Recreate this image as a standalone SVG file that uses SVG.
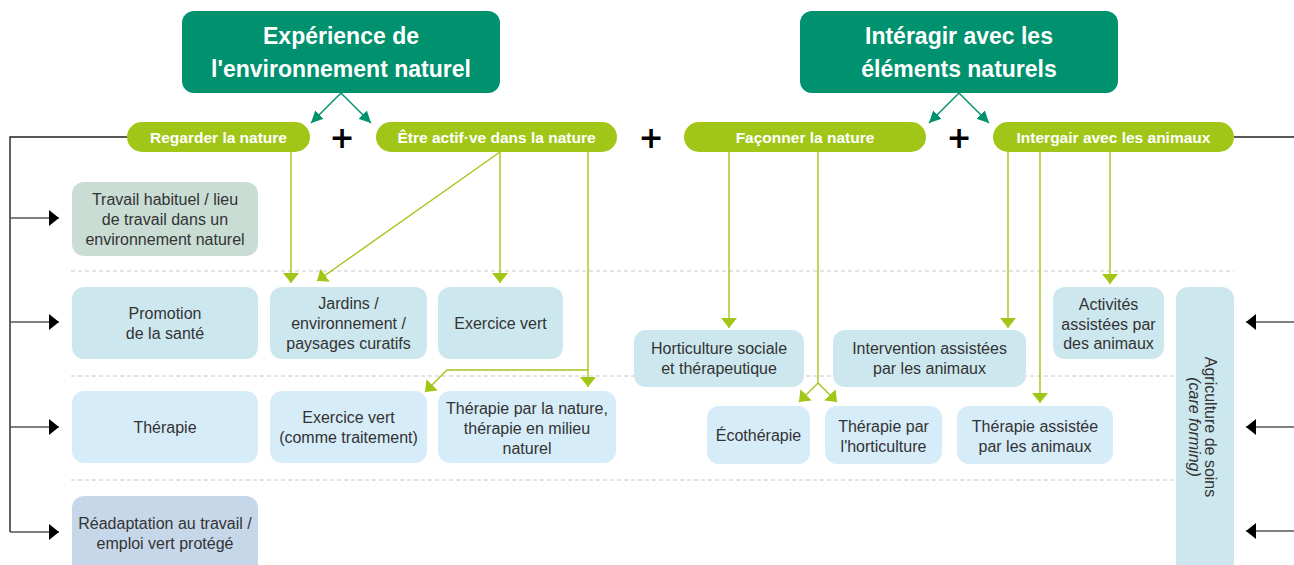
<svg xmlns="http://www.w3.org/2000/svg" width="1294" height="565" viewBox="0 0 1294 565">
<style>
.hdr{fill:#00916e}
.hdrt{font-family:"Liberation Sans",Arial,sans-serif;font-weight:bold;font-size:23px;fill:#fff;text-anchor:middle}
.pill{fill:#a2c617}
.pillt{font-family:"Liberation Sans",Arial,sans-serif;font-weight:bold;font-size:15.5px;fill:#fff;text-anchor:middle}
.plus{font-family:"DejaVu Sans","Liberation Sans",sans-serif;font-weight:bold;font-size:30px;fill:#000;text-anchor:middle}
.t{font-family:"Liberation Sans",Arial,sans-serif;font-size:16px;fill:#333;text-anchor:middle}
.b1{fill:#cde7ef}
.b2{fill:#d6ecf8}
.bw{fill:#c9ddd5}
.br{fill:#c6d7ea}
.dash{stroke:#c8c8c8;stroke-width:1;stroke-dasharray:4 3;fill:none}
.gl{stroke:#a2c617;stroke-width:1.4;fill:none;marker-end:url(#ag)}
.tl{stroke:#00916e;stroke-width:1.4;fill:none;marker-end:url(#at)}
.kl{stroke:#222;stroke-width:1.4;fill:none}
.ka{stroke:#555;stroke-width:1.4;fill:none;marker-end:url(#ak)}
</style>
<defs>
<marker id="ag" viewBox="0 0 10 16" markerWidth="10" markerHeight="16" markerUnits="userSpaceOnUse" refX="10" refY="8" orient="auto"><path d="M0,0 L10,8 L0,16 Z" fill="#a2c617"/></marker>
<marker id="at" viewBox="0 0 12 12" markerWidth="12" markerHeight="12" markerUnits="userSpaceOnUse" refX="12" refY="6" orient="auto"><path d="M0,0 L12,6 L0,12 Z" fill="#00916e"/></marker>
<marker id="ak" viewBox="0 0 10 16" markerWidth="10" markerHeight="16" markerUnits="userSpaceOnUse" refX="10" refY="8" orient="auto"><path d="M0,0 L10,8 L0,16 Z" fill="#000"/></marker>
</defs>
<rect width="1294" height="565" fill="#fff"/>

<g id="dividers">
<path class="dash" d="M71,271 H1234"/>
<path class="dash" d="M71,376 H1176"/>
<path class="dash" d="M71,480 H1176"/>
</g>

<g id="connectors">
<path class="tl" d="M341,93 L311,123"/>
<path class="tl" d="M341,93 L371,123"/>
<path class="tl" d="M959,93 L929,123"/>
<path class="tl" d="M959,93 L989,123"/>
<path class="gl" d="M291,152 V283"/>
<path class="gl" d="M500,152 L317,281"/>
<path class="gl" d="M500,152 V283"/>
<path class="gl" d="M588,152 V387"/>
<path class="gl" d="M588,370 H447 L425,392"/>
<path class="gl" d="M729,152 V328"/>
<path class="gl" d="M818,152 V383 L799,402"/>
<path class="gl" d="M818,383 L837,402"/>
<path class="gl" d="M1008,152 V328"/>
<path class="gl" d="M1040,152 V403"/>
<path class="gl" d="M1110,152 V284"/>
<path class="kl" d="M127,137 H10 V532"/>
<path class="ka" d="M10,218 H59"/>
<path class="ka" d="M10,322 H59"/>
<path class="ka" d="M10,427 H59"/>
<path class="ka" d="M10,532 H59"/>
<path class="kl" d="M1234,137 H1294"/>
<path class="ka" d="M1294,322 H1246"/>
<path class="ka" d="M1294,427 H1246"/>
<path class="ka" d="M1294,531 H1246"/>
</g>

<g id="hdr-experience">
<rect class="hdr" x="182" y="11" width="318" height="82" rx="12"/>
<text class="hdrt" x="341" y="44">Expérience de</text>
<text class="hdrt" x="341" y="77">l'environnement naturel</text>
</g>
<g id="hdr-interagir">
<rect class="hdr" x="800" y="11" width="318" height="82" rx="12"/>
<text class="hdrt" x="959" y="44">Intéragir avec les</text>
<text class="hdrt" x="959" y="77">éléments naturels</text>
</g>

<g id="pill-regarder">
<rect class="pill" x="127" y="122" width="183" height="30" rx="15"/>
<text class="pillt" x="218.5" y="142.5">Regarder la nature</text>
</g>
<g id="pill-actif">
<rect class="pill" x="376" y="122" width="241" height="30" rx="15"/>
<text class="pillt" x="496.5" y="142.5">Être actif·ve dans la nature</text>
</g>
<g id="pill-faconner">
<rect class="pill" x="684" y="122" width="242" height="30" rx="15"/>
<text class="pillt" x="805" y="142.5">Façonner la nature</text>
</g>
<g id="pill-animaux">
<rect class="pill" x="993" y="122" width="241" height="30" rx="15"/>
<text class="pillt" x="1113.5" y="142.5">Intergair avec les animaux</text>
</g>

<g id="plus-signs">
<text class="plus" x="342" y="148">+</text>
<text class="plus" x="651" y="148">+</text>
<text class="plus" x="959" y="148">+</text>
</g>

<g id="travail">
<rect class="bw" x="72" y="182" width="186" height="74" rx="12"/>
<text class="t" x="165" y="205">Travail habituel / lieu</text>
<text class="t" x="165" y="225">de travail dans un</text>
<text class="t" x="165" y="245">environnement naturel</text>
</g>
<g id="promotion">
<rect class="b1" x="72" y="287" width="186" height="72" rx="12"/>
<text class="t" x="165" y="319">Promotion</text>
<text class="t" x="165" y="339">de la santé</text>
</g>
<g id="jardins">
<rect class="b1" x="270" y="287" width="157" height="72" rx="12"/>
<text class="t" x="348.5" y="309">Jardins /</text>
<text class="t" x="348.5" y="329">environnement /</text>
<text class="t" x="348.5" y="349">paysages curatifs</text>
</g>
<g id="exercice-vert">
<rect class="b1" x="438" y="287" width="125" height="72" rx="12"/>
<text class="t" x="500.5" y="329">Exercice vert</text>
</g>
<g id="horticulture-sociale">
<rect class="b1" x="634" y="330" width="170" height="57" rx="12"/>
<text class="t" x="719" y="354">Horticulture sociale</text>
<text class="t" x="719" y="374">et thérapeutique</text>
</g>
<g id="intervention">
<rect class="b1" x="833" y="330" width="193" height="57" rx="12"/>
<text class="t" x="929.5" y="354">Intervention assistées</text>
<text class="t" x="929.5" y="374">par les animaux</text>
</g>
<g id="activites">
<rect class="b1" x="1053" y="287" width="111" height="72" rx="12"/>
<text class="t" x="1108.5" y="310">Activités</text>
<text class="t" x="1108.5" y="330">assistées par</text>
<text class="t" x="1108.5" y="349">des animaux</text>
</g>
<g id="agriculture">
<path class="b1" d="M1176,565 V299 A12,12 0 0 1 1188,287 H1222 A12,12 0 0 1 1234,299 V565 Z"/>
<g transform="translate(1207,427) rotate(90)">
<text class="t" x="0" y="2">Agriculture de soins</text>
<text class="t" x="0" y="18" font-style="italic">(care forming)</text>
</g>
</g>
<g id="therapie">
<rect class="b2" x="72" y="391" width="186" height="72" rx="12"/>
<text class="t" x="165" y="433">Thérapie</text>
</g>
<g id="exercice-traitement">
<rect class="b2" x="270" y="391" width="157" height="72" rx="12"/>
<text class="t" x="348.5" y="423">Exercice vert</text>
<text class="t" x="348.5" y="443">(comme traitement)</text>
</g>
<g id="therapie-nature">
<rect class="b2" x="438" y="391" width="178" height="72" rx="12"/>
<text class="t" x="527" y="414">Thérapie par la nature,</text>
<text class="t" x="527" y="434">thérapie en milieu</text>
<text class="t" x="527" y="454">naturel</text>
</g>
<g id="ecotherapie">
<rect class="b2" x="707" y="406" width="103" height="58" rx="12"/>
<text class="t" x="758.5" y="441">Écothérapie</text>
</g>
<g id="therapie-horticulture">
<rect class="b2" x="825" y="406" width="117" height="58" rx="12"/>
<text class="t" x="883.5" y="432">Thérapie par</text>
<text class="t" x="883.5" y="452">l'horticulture</text>
</g>
<g id="therapie-animaux">
<rect class="b2" x="957" y="406" width="156" height="58" rx="12"/>
<text class="t" x="1035" y="432">Thérapie assistée</text>
<text class="t" x="1035" y="452">par les animaux</text>
</g>
<g id="readaptation">
<path class="br" d="M72,565 V508 A12,12 0 0 1 84,496 H246 A12,12 0 0 1 258,508 V565 Z"/>
<text class="t" x="165" y="529">Réadaptation au travail /</text>
<text class="t" x="165" y="549">emploi vert protégé</text>
</g>
</svg>
